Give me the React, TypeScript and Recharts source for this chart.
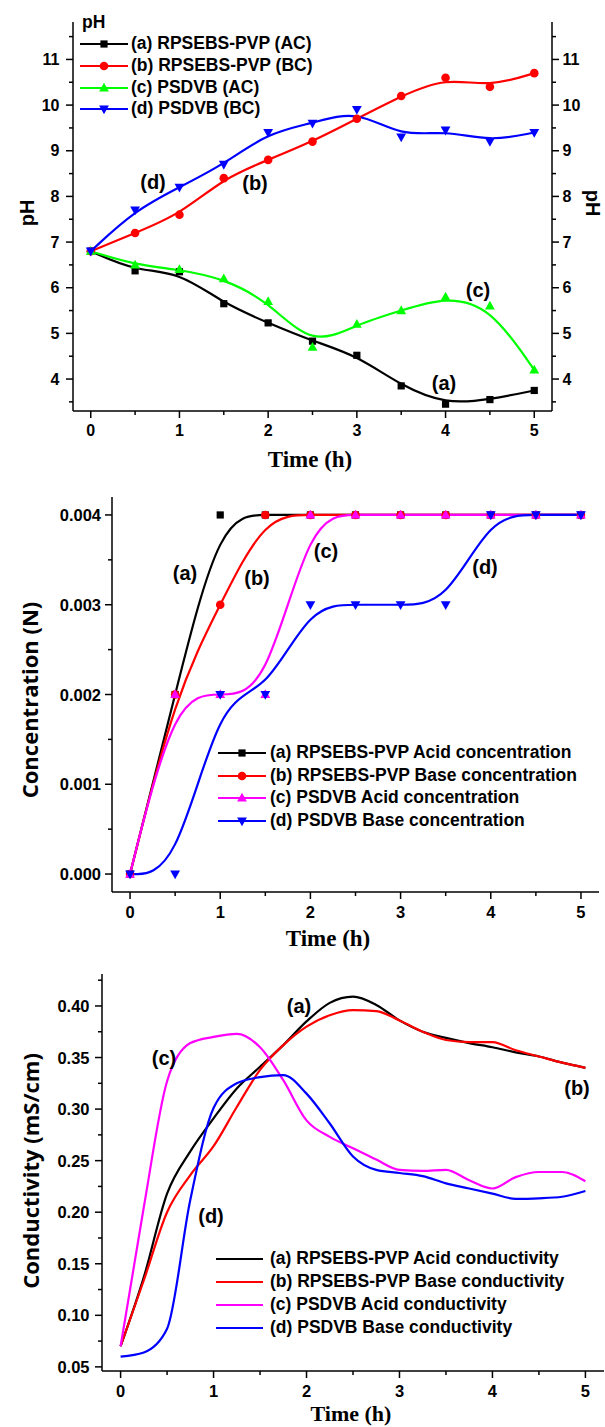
import React from 'react';
import { LineChart, Line, XAxis, YAxis } from 'recharts';

// ---------------- data ----------------
const timeH = [0, 0.5, 1, 1.5, 2, 2.5, 3, 3.5, 4, 4.5, 5];

// Chart 1 : pH
const phA = [6.8, 6.37, 6.35, 5.65, 5.23, 4.83, 4.52, 3.85, 3.45, 3.55, 3.75];
const phB = [6.8, 7.2, 7.6, 8.4, 8.8, 9.2, 9.7, 10.2, 10.6, 10.4, 10.7];
const phC = [6.8, 6.5, 6.4, 6.2, 5.7, 4.7, 5.2, 5.5, 5.8, 5.6, 4.2];
const phD = [6.8, 7.7, 8.2, 8.7, 9.4, 9.6, 9.9, 9.3, 9.45, 9.2, 9.4];
const phNames = ['(a) RPSEBS-PVP (AC)', '(b) RPSEBS-PVP (BC)', '(c) PSDVB (AC)', '(d) PSDVB (BC)'];

// Chart 2 : concentration
const concA = [0, 0.002, 0.004, 0.004, 0.004, 0.004, 0.004, 0.004, 0.004, 0.004, 0.004];
const concB = [0, 0.002, 0.003, 0.004, 0.004, 0.004, 0.004, 0.004, 0.004, 0.004, 0.004];
const concC = [0, 0.002, 0.002, 0.002, 0.004, 0.004, 0.004, 0.004, 0.004, 0.004, 0.004];
const concD = [0, 0, 0.002, 0.002, 0.003, 0.003, 0.003, 0.003, 0.004, 0.004, 0.004];
const concNames = [
  '(a) RPSEBS-PVP Acid concentration',
  '(b) RPSEBS-PVP Base concentration',
  '(c) PSDVB Acid concentration',
  '(d) PSDVB Base concentration',
];

// Chart 3 : conductivity (every 0.25 h)
const timeQ = [0, 0.25, 0.5, 0.75, 1, 1.25, 1.5, 1.75, 2, 2.25, 2.5, 2.75, 3, 3.25, 3.5, 3.75, 4, 4.25, 4.5, 4.75, 5];
const condA = [0.07, 0.137, 0.218, 0.259, 0.291, 0.32, 0.341, 0.362, 0.385, 0.403, 0.409, 0.401, 0.386, 0.375, 0.369, 0.364, 0.36, 0.355, 0.351, 0.345, 0.34];
const condB = [0.07, 0.134, 0.2, 0.236, 0.264, 0.302, 0.338, 0.362, 0.38, 0.391, 0.396, 0.395, 0.386, 0.375, 0.367, 0.365, 0.365, 0.357, 0.351, 0.345, 0.34];
const condC = [0.07, 0.205, 0.327, 0.364, 0.37, 0.373, 0.36, 0.328, 0.289, 0.273, 0.262, 0.251, 0.241, 0.24, 0.241, 0.231, 0.223, 0.234, 0.239, 0.239, 0.23];
const condD = [0.06, 0.064, 0.087, 0.212, 0.301, 0.325, 0.331, 0.333, 0.315, 0.286, 0.254, 0.241, 0.238, 0.235, 0.228, 0.223, 0.218, 0.213, 0.2135, 0.215, 0.2205];
const condNames = [
  '(a) RPSEBS-PVP Acid conductivity',
  '(b) RPSEBS-PVP Base conductivity',
  '(c) PSDVB Acid conductivity',
  '(d) PSDVB Base conductivity',
];

// ticks
const xMajor = [0, 1, 2, 3, 4, 5];
const xMinor = [0.5, 1.5, 2.5, 3.5, 4.5];
const phMajor = [4, 5, 6, 7, 8, 9, 10, 11];
const phMinor = [3.5, 4.5, 5.5, 6.5, 7.5, 8.5, 9.5, 10.5, 11.5];
const concMajor = [0, 0.001, 0.002, 0.003, 0.004];
const concMinor = [0.0005, 0.0015, 0.0025, 0.0035];
const condMajor = [0.05, 0.1, 0.15, 0.2, 0.25, 0.3, 0.35, 0.4];
const condMinor = [0.075, 0.125, 0.175, 0.225, 0.275, 0.325, 0.375, 0.425];

// ---------------- styles ----------------
const SANS = '"Liberation Sans", Arial, sans-serif';
const SERIF = '"Liberation Serif", "Times New Roman", serif';
const OPEN = '"Open Sans", sans-serif';
const AXIS = { stroke: '#000', strokeWidth: 1.5 };

const phRows = timeH.map((t, i) => ({ t, a: phA[i], b: phB[i], c: phC[i], d: phD[i] }));
const concRows = timeH.map((t, i) => ({ t, a: concA[i], b: concB[i], c: concC[i], d: concD[i] }));
const condRows = timeQ.map((t, i) => ({ t, a: condA[i], b: condB[i], c: condC[i], d: condD[i] }));

const keys = ['a', 'b', 'c', 'd'];
const phColors = ['#000000', '#ff0000', '#00ff00', '#0000ff'];
const concColors = ['#000000', '#ff0000', '#ff00ff', '#0000ff'];
const shapes = ['square', 'circle', 'up', 'down'];

function isIn(v: number, arr: number[]) {
  return arr.some((m) => Math.abs(m - v) < 1e-9);
}

function makeTick(orient: 'left' | 'right' | 'bottom', majors: number[], fmt: (v: number) => string, fontSize: number, gap: number) {
  return function TickMark(props: any) {
    const { x, y, payload } = props;
    const v = payload.value;
    const major = isIn(v, majors);
    const len = major ? 7 : 4;
    const ts = { fontFamily: SANS, fontWeight: 700, fontSize, fill: '#000' } as any;
    if (orient === 'left') {
      return (
        <g>
          <line x1={x} y1={y} x2={x - len} y2={y} stroke="#000" strokeWidth={1.5} />
          {major && (
            <text x={x - gap} y={y} textAnchor="end" dominantBaseline="central" style={ts}>
              {fmt(v)}
            </text>
          )}
        </g>
      );
    }
    if (orient === 'right') {
      return (
        <g>
          <line x1={x} y1={y} x2={x + len} y2={y} stroke="#000" strokeWidth={1.5} />
          {major && (
            <text x={x + gap} y={y} textAnchor="start" dominantBaseline="central" style={ts}>
              {fmt(v)}
            </text>
          )}
        </g>
      );
    }
    return (
      <g>
        <line x1={x} y1={y} x2={x} y2={y + len} stroke="#000" strokeWidth={1.5} />
        {major && (
          <text x={x} y={y + gap} textAnchor="middle" dominantBaseline="central" style={ts}>
            {fmt(v)}
          </text>
        )}
      </g>
    );
  };
}

function Marker({ shape, cx, cy, color }: { shape: string; cx: number; cy: number; color: string }) {
  if (cx == null || cy == null || isNaN(cx) || isNaN(cy)) return <g />;
  if (shape === 'square') return <rect x={cx - 3.6} y={cy - 3.6} width={7.2} height={7.2} fill={color} />;
  if (shape === 'circle') return <circle cx={cx} cy={cy} r={4.3} fill={color} />;
  if (shape === 'up')
    return <polygon points={`${cx},${cy - 5.2} ${cx + 4.9},${cy + 3.6} ${cx - 4.9},${cy + 3.6}`} fill={color} />;
  return <polygon points={`${cx},${cy + 5.2} ${cx + 4.9},${cy - 3.6} ${cx - 4.9},${cy - 3.6}`} fill={color} />;
}

function Txt({ x, y, children, font = SANS, size = 20, rotate = 0, weight = 700, anchor = 'center' }: any) {
  const tx = anchor === 'center' ? '-50%' : '0';
  return (
    <div
      style={{
        position: 'absolute',
        left: x,
        top: y,
        transform: `translate(${tx}, -50%) rotate(${rotate}deg)`,
        transformOrigin: anchor === 'center' ? 'center center' : 'left center',
        fontFamily: font,
        fontWeight: weight,
        fontSize: size,
        lineHeight: 1,
        whiteSpace: 'nowrap',
        color: '#000',
      }}
    >
      {children}
    </div>
  );
}

function LegendRow({ y, x1, x2, tx, color, shape, name }: any) {
  return (
    <>
      <svg style={{ position: 'absolute', left: x1, top: y - 8 }} width={x2 - x1} height={16}>
        <line x1={0} y1={8} x2={x2 - x1} y2={8} stroke={color} strokeWidth={2.2} />
        {shape && <Marker shape={shape} cx={(x2 - x1) / 2} cy={8} color={color} />}
      </svg>
      <Txt x={tx} y={y} size={17.5} anchor="left">
        {name}
      </Txt>
    </>
  );
}

const fmtInt = (v: number) => String(v);
const fmt3 = (v: number) => v.toFixed(3);
const fmt2 = (v: number) => v.toFixed(2);

export default function App() {
  const tick1L = makeTick('left', phMajor, fmtInt, 16, 13.5);
  const tick1R = makeTick('right', phMajor, fmtInt, 16, 10.5);
  const tick1B = makeTick('bottom', xMajor, fmtInt, 16, 19.5);
  const tick2L = makeTick('left', concMajor, fmt3, 16.5, 11);
  const tick2B = makeTick('bottom', xMajor, fmtInt, 16.5, 19.7);
  const tick3L = makeTick('left', condMajor, fmt2, 16.5, 12.5);
  const tick3B = makeTick('bottom', xMajor, fmtInt, 16.5, 19.7);
  const xt = [...xMajor, ...xMinor];

  return (
    <div style={{ position: 'absolute', left: 0, top: 0, width: 605, height: 1427, background: '#fff', overflow: 'hidden' }}>
      {/* ---------- Chart 1 ---------- */}
      <div style={{ position: 'absolute', left: 0, top: 0 }}>
        <LineChart width={605} height={470} data={phRows} margin={{ top: 22, right: 0, bottom: 0, left: 0 }}>
          <XAxis
            dataKey="t"
            type="number"
            domain={[-0.2, 5.2]}
            ticks={xt}
            interval={0}
            height={59}
            tickLine={false}
            tickSize={0}
            tickMargin={0}
            tick={tick1B}
            axisLine={AXIS}
            allowDataOverflow
          />
          <YAxis
            yAxisId="left"
            type="number"
            domain={[3.3, 11.82]}
            ticks={[...phMajor, ...phMinor]}
            interval={0}
            width={73}
            tickLine={false}
            tickSize={0}
            tickMargin={0}
            tick={tick1L}
            axisLine={AXIS}
            allowDataOverflow
          />
          <YAxis
            yAxisId="right"
            orientation="right"
            type="number"
            domain={[3.3, 11.82]}
            ticks={[...phMajor, ...phMinor]}
            interval={0}
            width={53}
            tickLine={false}
            tickSize={0}
            tickMargin={0}
            tick={tick1R}
            axisLine={AXIS}
            allowDataOverflow
          />
          {keys.map((k, i) => (
            <Line
              key={k}
              yAxisId="left"
              dataKey={k}
              type="basis"
              stroke={phColors[i]}
              strokeWidth={2.2}
              isAnimationActive={false}
              activeDot={false}
              dot={(p: any) => <Marker key={`${k}${p.index}`} shape={shapes[i]} cx={p.cx} cy={p.cy} color={phColors[i]} />}
            />
          ))}
        </LineChart>
      </div>
      <Txt x={82} y={23} size={17.5} anchor="left">pH</Txt>
      {keys.map((k, i) => (
        <LegendRow key={k} y={[43.5, 65.7, 87.7, 109.3][i]} x1={80} x2={128} tx={131} color={phColors[i]} shape={shapes[i]} name={phNames[i]} />
      ))}
      <Txt x={153} y={182}>(d)</Txt>
      <Txt x={255} y={183}>(b)</Txt>
      <Txt x={478} y={290}>(c)</Txt>
      <Txt x={444} y={383}>(a)</Txt>
      <Txt x={27} y={213} size={20} rotate={-90}>pH</Txt>
      <Txt x={593} y={203} size={20} rotate={90}>pH</Txt>
      <Txt x={310} y={459} size={23} font={SERIF}>Time (h)</Txt>

      {/* ---------- Chart 2 ---------- */}
      <div style={{ position: 'absolute', left: 0, top: 480 }}>
        <LineChart width={605} height={460} data={concRows} margin={{ top: 17, right: 6, bottom: 0, left: 0 }}>
          <XAxis
            dataKey="t"
            type="number"
            domain={[-0.2, 5.2]}
            ticks={xt}
            interval={0}
            height={48}
            tickLine={false}
            tickSize={0}
            tickMargin={0}
            tick={tick2B}
            axisLine={AXIS}
            allowDataOverflow
          />
          <XAxis xAxisId="top" orientation="top" type="number" domain={[-0.2, 5.2]} height={0} tick={false} tickLine={false} axisLine={AXIS} allowDataOverflow />
          <YAxis
            type="number"
            domain={[-0.0002, 0.0042]}
            ticks={[...concMajor, ...concMinor]}
            interval={0}
            width={112}
            tickLine={false}
            tickSize={0}
            tickMargin={0}
            tick={tick2L}
            axisLine={AXIS}
            allowDataOverflow
          />
          <YAxis yAxisId="right" orientation="right" type="number" domain={[-0.0002, 0.0042]} width={0} tick={false} tickLine={false} axisLine={AXIS} allowDataOverflow />
          {keys.map((k, i) => (
            <Line
              key={k}
              dataKey={k}
              type="basis"
              stroke={concColors[i]}
              strokeWidth={2.2}
              isAnimationActive={false}
              activeDot={false}
              dot={(p: any) => <Marker key={`${k}${p.index}`} shape={shapes[i]} cx={p.cx} cy={p.cy} color={concColors[i]} />}
            />
          ))}
        </LineChart>
      </div>
      {keys.map((k, i) => (
        <LegendRow key={k} y={[752.7, 775.7, 798.3, 820.7][i]} x1={218} x2={266} tx={270} color={concColors[i]} shape={shapes[i]} name={concNames[i]} />
      ))}
      <Txt x={185} y={573}>(a)</Txt>
      <Txt x={257} y={578}>(b)</Txt>
      <Txt x={326} y={551}>(c)</Txt>
      <Txt x={485} y={567}>(d)</Txt>
      <Txt x={29} y={700} size={22} font={OPEN} rotate={-90}>Concentration (N)</Txt>
      <Txt x={328} y={938} size={23} font={SERIF}>Time (h)</Txt>

      {/* ---------- Chart 3 ---------- */}
      <div style={{ position: 'absolute', left: 0, top: 950 }}>
        <LineChart width={605} height={477} data={condRows} margin={{ top: 24, right: 1, bottom: 0, left: 0 }}>
          <XAxis
            dataKey="t"
            type="number"
            domain={[-0.2, 5.2]}
            ticks={xt}
            interval={0}
            height={56}
            tickLine={false}
            tickSize={0}
            tickMargin={0}
            tick={tick3B}
            axisLine={AXIS}
            allowDataOverflow
          />
          <XAxis xAxisId="top" orientation="top" type="number" domain={[-0.2, 5.2]} height={0} tick={false} tickLine={false} axisLine={AXIS} allowDataOverflow />
          <YAxis
            type="number"
            domain={[0.046, 0.431]}
            ticks={[...condMajor, ...condMinor]}
            interval={0}
            width={102}
            tickLine={false}
            tickSize={0}
            tickMargin={0}
            tick={tick3L}
            axisLine={AXIS}
            allowDataOverflow
          />
          <YAxis yAxisId="right" orientation="right" type="number" domain={[0.046, 0.431]} width={0} tick={false} tickLine={false} axisLine={AXIS} allowDataOverflow />
          {keys.map((k, i) => (
            <Line
              key={k}
              dataKey={k}
              type="monotoneX"
              stroke={concColors[i]}
              strokeWidth={2.2}
              isAnimationActive={false}
              activeDot={false}
              dot={false}
            />
          ))}
        </LineChart>
      </div>
      {keys.map((k, i) => (
        <LegendRow key={k} y={[1259.3, 1281.7, 1305, 1328.3][i]} x1={216} x2={263} tx={270} color={concColors[i]} shape={null} name={condNames[i]} />
      ))}
      <Txt x={299} y={1006}>(a)</Txt>
      <Txt x={164} y={1058}>(c)</Txt>
      <Txt x={577} y={1088}>(b)</Txt>
      <Txt x={211} y={1216}>(d)</Txt>
      <Txt x={30} y={1171} size={22} font={OPEN} rotate={-90}>Conductivity (mS/cm)</Txt>
      <Txt x={351} y={1414} size={22} font={SERIF}>Time (h)</Txt>
    </div>
  );
}
